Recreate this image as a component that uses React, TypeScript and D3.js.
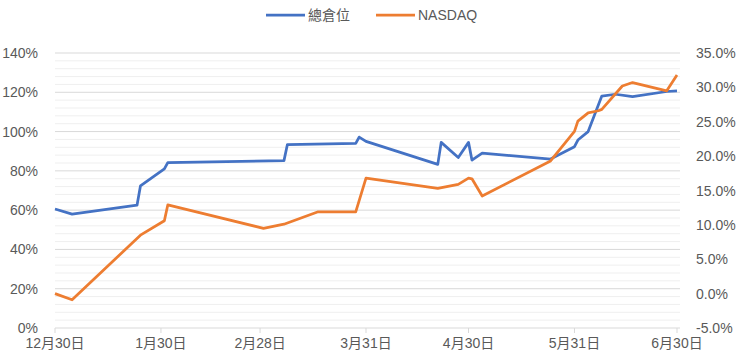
import React from "react";
import * as d3 from "d3";

// 總倉位 (left axis, %)
const positionDates = [
  "2020-12-30", "2021-01-04", "2021-01-23", "2021-01-24", "2021-01-31", "2021-02-01",
  "2021-03-07", "2021-03-08", "2021-03-28", "2021-03-29", "2021-03-31", "2021-04-21",
  "2021-04-22", "2021-04-27", "2021-04-30", "2021-05-01", "2021-05-04", "2021-05-24",
  "2021-05-31", "2021-06-01", "2021-06-04", "2021-06-08", "2021-06-12", "2021-06-17",
  "2021-06-27", "2021-06-30",
];
const positionValues = [
  60.6, 58.0, 62.5, 72.3, 81.0, 84.2,
  85.2, 93.4, 94.0, 97.2, 95.0, 83.3,
  94.5, 86.8, 94.5, 85.5, 89.0, 86.0,
  92.3, 95.7, 100.0, 118.1, 119.0, 117.8,
  120.4, 120.7,
];

// NASDAQ (right axis, %)
const nasdaqDates = [
  "2020-12-30", "2021-01-04", "2021-01-24", "2021-01-31", "2021-02-01", "2021-03-01",
  "2021-03-07", "2021-03-17", "2021-03-28", "2021-03-31", "2021-04-21", "2021-04-27",
  "2021-04-30", "2021-05-01", "2021-05-04", "2021-05-24", "2021-05-31", "2021-06-01",
  "2021-06-04", "2021-06-07", "2021-06-08", "2021-06-14", "2021-06-17", "2021-06-27",
  "2021-06-30",
];
const nasdaqValues = [
  0.0, -0.9, 8.5, 10.6, 12.9, 9.5,
  10.1, 11.9, 11.9, 16.8, 15.3, 15.9,
  16.8, 16.7, 14.2, 19.3, 23.6, 25.1,
  26.3, 26.6, 26.8, 30.2, 30.7, 29.5,
  31.8,
];

const xTickDates = ["2020-12-30", "2021-01-30", "2021-02-28", "2021-03-31", "2021-04-30", "2021-05-31", "2021-06-30"];
const leftTicks = [0, 20, 40, 60, 80, 100, 120, 140];
const rightTicks = [-5, 0, 5, 10, 15, 20, 25, 30, 35];

const seriesNames = ["總倉位", "NASDAQ"];
const colors = ["#4472C4", "#ED7D31"];

const parse = d3.timeParse("%Y-%m-%d");
const font = "'Liberation Sans', 'Noto Sans CJK TC', sans-serif";

export default function App() {
  const width = 740;
  const height = 363;
  const left = 55;
  const right = 678;
  const top = 53;
  const bottom = 328;

  const x = d3
    .scaleTime()
    .domain([parse("2020-12-30")!, parse("2021-06-30")!])
    .range([left, right - 1]);
  const yL = d3.scaleLinear().domain([0, 140]).range([bottom, top]);
  const yR = d3.scaleLinear().domain([-5, 35]).range([bottom, top]);

  const posData = positionDates.map((d, i) => ({ date: parse(d)!, v: positionValues[i] }));
  const nasData = nasdaqDates.map((d, i) => ({ date: parse(d)!, v: nasdaqValues[i] }));

  const posLine = d3
    .line<{ date: Date; v: number }>()
    .x((d) => x(d.date))
    .y((d) => yL(d.v));
  const nasLine = d3
    .line<{ date: Date; v: number }>()
    .x((d) => x(d.date))
    .y((d) => yR(d.v));

  const minorTicks = d3.range(0, 141, 4).filter((t) => t % 20 !== 0);
  const fmt = d3.timeFormat("%-m月%-d日");

  return (
    <svg
      width={width}
      height={height}
      style={{ position: "absolute", left: 0, top: 0, background: "#fff", fontFamily: font }}
    >
      {/* gridlines */}
      {minorTicks.map((t) => (
        <line key={"m" + t} x1={left} x2={right + 2} y1={yL(t)} y2={yL(t)} stroke="#efefef" strokeWidth={1} />
      ))}
      {leftTicks.slice(1).map((t) => (
        <line key={"g" + t} x1={left} x2={right + 2} y1={yL(t)} y2={yL(t)} stroke="#d9d9d9" strokeWidth={1} />
      ))}
      {/* x axis */}
      <line x1={left} x2={right + 2} y1={bottom} y2={bottom} stroke="#d9d9d9" strokeWidth={1} />
      {xTickDates.map((d) => {
        const px = x(parse(d)!);
        return (
          <g key={d}>
            <line x1={px} x2={px} y1={bottom} y2={bottom + 5} stroke="#d9d9d9" />
            <text x={px} y={348} textAnchor="middle" fontSize={14} fill="#595959">
              {fmt(parse(d)!)}
            </text>
          </g>
        );
      })}
      {/* left axis labels */}
      {leftTicks.map((t) => (
        <text key={"l" + t} x={38} y={yL(t) + 5} textAnchor="end" fontSize={14} fill="#595959">
          {t}%
        </text>
      ))}
      {/* right axis labels */}
      {rightTicks.map((t) => (
        <text key={"r" + t} x={696} y={yR(t) + 5} textAnchor="start" fontSize={14} fill="#595959">
          {t.toFixed(1)}%
        </text>
      ))}
      {/* series */}
      <path d={posLine(posData) ?? ""} fill="none" stroke={colors[0]} strokeWidth={2.75} strokeLinejoin="round" />
      <path d={nasLine(nasData) ?? ""} fill="none" stroke={colors[1]} strokeWidth={2.75} strokeLinejoin="round" />
      {/* legend */}
      <g>
        <line x1={266} x2={305} y1={15} y2={15} stroke={colors[0]} strokeWidth={2.75} />
        <text x={308} y={20} fontSize={14} fill="#595959">{seriesNames[0]}</text>
        <line x1={376} x2={415} y1={15} y2={15} stroke={colors[1]} strokeWidth={2.75} />
        <text x={418} y={20} fontSize={14} fill="#595959">{seriesNames[1]}</text>
      </g>
    </svg>
  );
}
